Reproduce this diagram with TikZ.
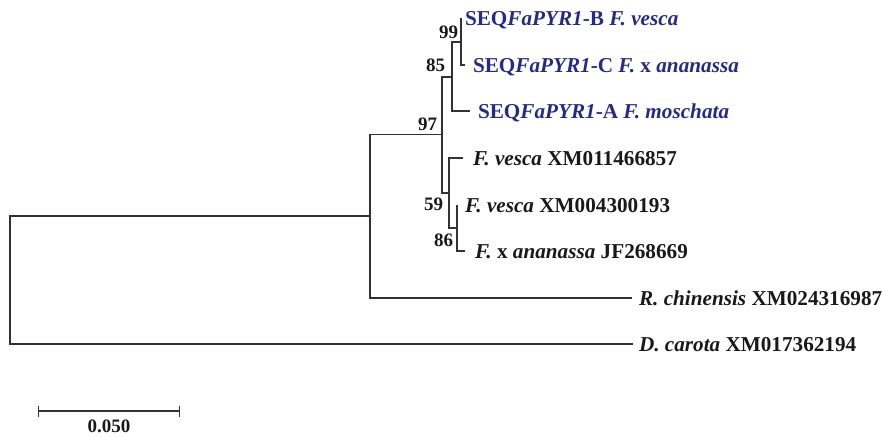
\documentclass[tikz,border=0pt]{standalone}
\usepackage{fontspec}
\setmainfont{Liberation Serif}
\usetikzlibrary{arrows.meta}
\definecolor{treeblue}{RGB}{38,42,135}
\definecolor{treegray}{RGB}{50,50,50}
\definecolor{treeblack}{RGB}{25,25,25}

\begin{document}
\begin{tikzpicture}[x=1pt, y=-1pt,
    branch/.style={draw=treegray, line width=1.4pt},
    taxon/.style={anchor=west, inner sep=0pt, outer sep=0pt,
                  text height=14pt, text depth=0pt, treeblack,
                  font=\fontsize{21.2}{25}\selectfont\bfseries},
    seqtaxon/.style={taxon, treeblue},
    boot/.style={anchor=east, inner sep=0pt, outer sep=0pt,
                 text height=13pt, text depth=0pt, treeblack,
                 font=\fontsize{19}{22}\selectfont\bfseries},
]
\useasboundingbox (0,0) rectangle (882,437);

\coordinate (root) at (10,280);
\coordinate (ros)  at (370,216);
\coordinate (n97)  at (442,134.5);
\coordinate (n85)  at (452,77);
\coordinate (n99)  at (461,42);
\coordinate (n59)  at (449,193);
\coordinate (n86)  at (457,228);

\coordinate (lfB)  at (461,18);
\coordinate (lfC)  at (465,65);
\coordinate (lfA)  at (470,111);
\coordinate (lfV1) at (463,158);
\coordinate (lfV2) at (457,205);
\coordinate (lfJF) at (465,251);
\coordinate (lfRc) at (632,298);
\coordinate (lfDc) at (633,344);

\node[seqtaxon] (txB)  at (465,18)  {SEQ\textit{FaPYR1}-B \textit{F. vesca}};
\node[seqtaxon] (txC)  at (473,65)  {SEQ\textit{FaPYR1}-C \textit{F.} x \textit{ananassa}};
\node[seqtaxon] (txA)  at (478,111) {SEQ\textit{FaPYR1}-A \textit{F. moschata}};
\node[taxon]    (txV1) at (473,158) {\textit{F. vesca} XM011466857};
\node[taxon]    (txV2) at (465,205) {\textit{F. vesca} XM004300193};
\node[taxon]    (txJF) at (475,251) {\textit{F.} x \textit{ananassa} JF268669};
\node[taxon]    (txRc) at (639,298) {\textit{R. chinensis} XM024316987};
\node[taxon]    (txDc) at (639,344) {\textit{D. carota} XM017362194};

\draw[branch] (root) |- (ros)  (root) |- (lfDc);
\draw[branch] (ros)  |- (n97)  (ros)  |- (lfRc);
\draw[branch] (n97)  |- (n85)  (n97)  |- (n59);
\draw[branch] (n85)  |- (n99)  (n85)  |- (lfA);
\draw[branch] (n99)  |- (lfB)  (n99)  |- (lfC);
\draw[branch] (n59)  |- (lfV1) (n59)  |- (n86);
\draw[branch] (n86)  |- (lfV2) (n86)  |- (lfJF);

\node[boot] (bs99) at (458,32)  {99};
\node[boot] (bs85) at (445,65)  {85};
\node[boot] (bs97) at (437,124) {97};
\node[boot] (bs59) at (443,204) {59};
\node[boot] (bs86) at (453,240) {86};

\coordinate (sbL) at (38,411);
\coordinate (sbR) at (180,411);
\draw[branch, {Bar[width=11pt]}-{Bar[width=11pt]}] (sbL) -- (sbR);
\node[boot, anchor=south] (sbtext) at (109,432) {0.050};
\end{tikzpicture}
\end{document}
